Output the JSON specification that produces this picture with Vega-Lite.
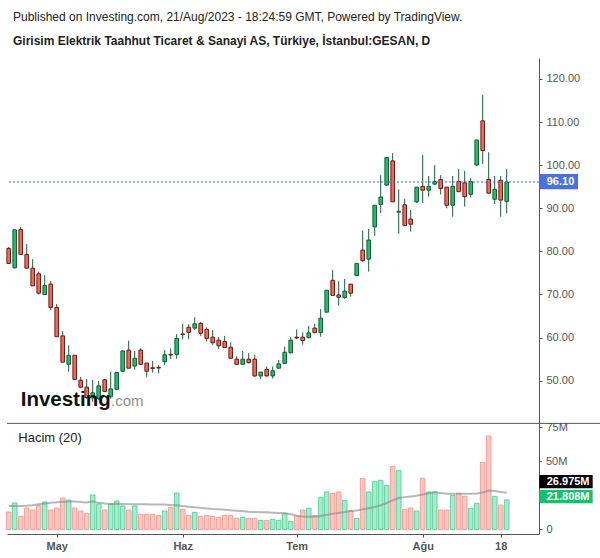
{
  "$schema": "https://vega.github.io/schema/vega-lite/v6.json",
  "width": 532,
  "height": 476,
  "autosize": {"type": "none"},
  "padding": {"left": 7, "top": 58, "right": 61, "bottom": 24},
  "background": "white",
  "config": {"view": {"stroke": null}, "font": "Liberation Sans", "axis": {"grid": false}},
  "title": {
    "text": "Published on Investing.com, 21/Aug/2023 - 18:24:59 GMT, Powered by TradingView.",
    "subtitle": "Girisim Elektrik Taahhut Ticaret & Sanayi AS, Türkiye, İstanbul:GESAN, D",
    "anchor": "start", "frame": "group", "dx": 6, "offset": 10,
    "fontSize": 12, "fontWeight": "normal", "color": "#222222",
    "subtitleFontSize": 12, "subtitleFontWeight": "bold", "subtitleColor": "#222222", "subtitlePadding": 12
  },
  "data": {"values": [
    {"i":0,"o":80.7,"h":81.0,"l":77.2,"c":77.2,"v":12.9,"ma":17.3},
    {"i":1,"o":76.2,"h":85.0,"l":76.0,"c":85.0,"v":19.5,"ma":17.3},
    {"i":2,"o":85.1,"h":85.7,"l":79.3,"c":79.3,"v":9.7,"ma":17.3},
    {"i":3,"o":79.3,"h":81.7,"l":76.1,"c":76.1,"v":15.8,"ma":17.4},
    {"i":4,"o":76.1,"h":78.2,"l":72.0,"c":72.0,"v":14.3,"ma":17.8},
    {"i":5,"o":74.8,"h":75.3,"l":70.0,"c":70.3,"v":17.5,"ma":18.5},
    {"i":6,"o":70.0,"h":74.5,"l":70.0,"c":72.1,"v":20.2,"ma":19.2},
    {"i":7,"o":72.4,"h":73.1,"l":66.4,"c":67.0,"v":14.3,"ma":19.7},
    {"i":8,"o":67.0,"h":67.8,"l":60.2,"c":60.2,"v":15.8,"ma":20.0},
    {"i":9,"o":60.4,"h":61.5,"l":54.3,"c":54.3,"v":23.2,"ma":20.4},
    {"i":10,"o":53.8,"h":58.2,"l":52.1,"c":55.9,"v":21.7,"ma":20.6},
    {"i":11,"o":55.9,"h":55.9,"l":50.3,"c":50.3,"v":15.8,"ma":20.5},
    {"i":12,"o":50.1,"h":50.9,"l":48.3,"c":48.5,"v":13.6,"ma":20.3},
    {"i":13,"o":48.5,"h":50.4,"l":45.8,"c":46.1,"v":11.9,"ma":19.9},
    {"i":14,"o":46.0,"h":50.2,"l":45.1,"c":47.2,"v":25.4,"ma":20.8},
    {"i":15,"o":45.9,"h":49.9,"l":45.5,"c":48.8,"v":18.75,"ma":19.6},
    {"i":16,"o":50.2,"h":50.4,"l":47.3,"c":47.5,"v":14.3,"ma":19.1},
    {"i":17,"o":46.3,"h":52.1,"l":45.8,"c":48.1,"v":18.75,"ma":18.8},
    {"i":18,"o":48.0,"h":51.9,"l":47.8,"c":51.9,"v":21.0,"ma":18.9},
    {"i":19,"o":52.2,"h":57.0,"l":52.0,"c":56.9,"v":17.3,"ma":18.7},
    {"i":20,"o":57.1,"h":59.3,"l":52.9,"c":52.9,"v":14.3,"ma":18.5},
    {"i":21,"o":53.4,"h":56.9,"l":52.6,"c":55.2,"v":17.3,"ma":18.6},
    {"i":22,"o":57.1,"h":57.5,"l":53.8,"c":53.8,"v":11.15,"ma":18.5},
    {"i":23,"o":54.1,"h":54.1,"l":50.9,"c":52.2,"v":11.15,"ma":18.5},
    {"i":24,"o":53.0,"h":54.6,"l":51.9,"c":52.85,"v":11.15,"ma":18.4},
    {"i":25,"o":53.1,"h":53.6,"l":51.7,"c":52.95,"v":10.4,"ma":18.4},
    {"i":26,"o":54.4,"h":57.1,"l":53.6,"c":56.0,"v":13.6,"ma":18.3},
    {"i":27,"o":56.1,"h":57.5,"l":55.1,"c":55.95,"v":16.3,"ma":18.1},
    {"i":28,"o":56.1,"h":60.8,"l":55.1,"c":59.8,"v":26.8,"ma":17.8},
    {"i":29,"o":60.85,"h":63.2,"l":59.6,"c":60.7,"v":14.8,"ma":17.3},
    {"i":30,"o":62.4,"h":63.1,"l":59.6,"c":61.2,"v":10.4,"ma":16.8},
    {"i":31,"o":62.2,"h":64.7,"l":61.8,"c":63.2,"v":12.6,"ma":16.3},
    {"i":32,"o":63.3,"h":63.6,"l":60.4,"c":61.0,"v":9.7,"ma":15.9},
    {"i":33,"o":61.9,"h":62.4,"l":59.1,"c":59.8,"v":10.4,"ma":15.5},
    {"i":34,"o":60.1,"h":61.7,"l":58.3,"c":58.8,"v":9.7,"ma":15.1},
    {"i":35,"o":59.4,"h":60.1,"l":57.3,"c":58.1,"v":8.9,"ma":14.8},
    {"i":36,"o":59.1,"h":60.4,"l":57.7,"c":57.7,"v":10.4,"ma":14.5},
    {"i":37,"o":57.75,"h":58.9,"l":55.2,"c":55.2,"v":10.4,"ma":14.1},
    {"i":38,"o":55.0,"h":55.7,"l":53.8,"c":53.8,"v":8.2,"ma":13.8},
    {"i":39,"o":53.8,"h":56.9,"l":53.8,"c":55.0,"v":8.9,"ma":13.5},
    {"i":40,"o":55.0,"h":56.4,"l":54.0,"c":54.2,"v":8.2,"ma":13.1},
    {"i":41,"o":55.0,"h":56.0,"l":50.9,"c":51.1,"v":8.2,"ma":12.9},
    {"i":42,"o":51.1,"h":52.0,"l":50.4,"c":52.0,"v":6.7,"ma":12.7},
    {"i":43,"o":52.6,"h":53.3,"l":51.0,"c":51.1,"v":6.7,"ma":12.6},
    {"i":44,"o":51.1,"h":53.3,"l":50.5,"c":52.3,"v":7.5,"ma":12.4},
    {"i":45,"o":52.9,"h":54.8,"l":52.9,"c":53.9,"v":6.7,"ma":12.2},
    {"i":46,"o":54.0,"h":57.9,"l":54.0,"c":56.6,"v":11.9,"ma":11.9},
    {"i":47,"o":56.5,"h":60.1,"l":56.3,"c":59.4,"v":6.0,"ma":11.2},
    {"i":48,"o":60.1,"h":61.9,"l":59.6,"c":59.9,"v":9.9,"ma":10.2},
    {"i":49,"o":60.1,"h":61.2,"l":58.35,"c":59.3,"v":14.3,"ma":9.5},
    {"i":50,"o":60.0,"h":62.7,"l":59.8,"c":61.1,"v":15.6,"ma":9.4},
    {"i":51,"o":62.2,"h":63.2,"l":61.0,"c":61.15,"v":10.2,"ma":9.6},
    {"i":52,"o":61.15,"h":66.6,"l":60.2,"c":64.5,"v":23.7,"ma":10.0},
    {"i":53,"o":65.9,"h":71.0,"l":65.8,"c":71.0,"v":27.6,"ma":10.8},
    {"i":54,"o":73.3,"h":75.7,"l":69.8,"c":69.8,"v":26.6,"ma":11.5},
    {"i":55,"o":69.9,"h":73.1,"l":67.4,"c":69.35,"v":27.6,"ma":12.2},
    {"i":56,"o":69.3,"h":73.6,"l":69.0,"c":70.8,"v":21.4,"ma":12.8},
    {"i":57,"o":72.4,"h":72.4,"l":69.5,"c":70.3,"v":13.6,"ma":13.6},
    {"i":58,"o":74.4,"h":77.2,"l":74.3,"c":77.2,"v":8.2,"ma":14.0},
    {"i":59,"o":80.3,"h":84.8,"l":77.6,"c":77.85,"v":37.6,"ma":14.8},
    {"i":60,"o":78.2,"h":85.2,"l":75.3,"c":82.65,"v":27.6,"ma":15.6},
    {"i":61,"o":85.7,"h":90.7,"l":83.6,"c":90.7,"v":35.4,"ma":16.5},
    {"i":62,"o":90.9,"h":97.7,"l":88.9,"c":92.6,"v":36.2,"ma":17.8},
    {"i":63,"o":95.4,"h":101.9,"l":95.2,"c":101.8,"v":32.5,"ma":19.5},
    {"i":64,"o":101.0,"h":102.8,"l":91.5,"c":91.5,"v":46.4,"ma":21.5},
    {"i":65,"o":89.1,"h":94.4,"l":84.1,"c":89.3,"v":43.5,"ma":23.2},
    {"i":66,"o":90.8,"h":92.2,"l":86.0,"c":86.0,"v":14.8,"ma":23.8},
    {"i":67,"o":87.5,"h":89.6,"l":84.6,"c":86.3,"v":15.8,"ma":24.3},
    {"i":68,"o":91.5,"h":94.9,"l":91.2,"c":94.9,"v":13.6,"ma":24.8},
    {"i":69,"o":95.1,"h":102.4,"l":91.2,"c":94.2,"v":37.6,"ma":25.8},
    {"i":70,"o":94.2,"h":97.5,"l":92.7,"c":95.1,"v":27.6,"ma":26.6},
    {"i":71,"o":95.6,"h":100.0,"l":95.4,"c":96.2,"v":27.6,"ma":27.3},
    {"i":72,"o":96.7,"h":97.7,"l":93.2,"c":94.6,"v":14.3,"ma":26.8},
    {"i":73,"o":94.9,"h":94.9,"l":90.0,"c":90.7,"v":14.3,"ma":26.3},
    {"i":74,"o":90.7,"h":97.5,"l":88.05,"c":95.1,"v":25.1,"ma":26.2},
    {"i":75,"o":96.2,"h":99.1,"l":93.85,"c":93.85,"v":26.6,"ma":26.2},
    {"i":76,"o":95.9,"h":98.7,"l":90.4,"c":92.7,"v":24.4,"ma":26.2},
    {"i":77,"o":93.25,"h":97.0,"l":92.5,"c":96.2,"v":15.6,"ma":26.3},
    {"i":78,"o":100.05,"h":105.85,"l":99.8,"c":105.85,"v":19.2,"ma":26.5},
    {"i":79,"o":110.3,"h":116.3,"l":100.3,"c":103.4,"v":49.4,"ma":27.2},
    {"i":80,"o":96.7,"h":103.0,"l":93.5,"c":93.5,"v":68.75,"ma":28.6},
    {"i":81,"o":92.1,"h":97.5,"l":91.0,"c":94.4,"v":24.4,"ma":28.3},
    {"i":82,"o":96.5,"h":97.5,"l":88.05,"c":91.9,"v":18.0,"ma":27.6},
    {"i":83,"o":91.6,"h":99.1,"l":88.8,"c":96.1,"v":21.8,"ma":27.0}
  ]},
  "layer": [
    {
      "layer": [
        {
          "mark": {"type": "rule", "color": "#1d5a38", "strokeWidth": 1},
          "encoding": {
            "x": {"field": "i", "type": "quantitative", "scale": {"domain": [-0.283, 88.383], "nice": false, "zero": false, "padding": 0},
                  "axis": {"values": [8, 29, 48, 69, 82], "labelExpr": "datum.value == 8 ? 'May' : datum.value == 29 ? 'Haz' : datum.value == 48 ? 'Tem' : datum.value == 69 ? 'Ağu' : '18'", "title": null, "domainColor": "#555555", "tickColor": "#555555", "tickSize": 3, "labelPadding": 3, "labelFontSize": 11, "labelFontWeight": "bold", "labelColor": "#555555", "labelFlush": false, "labelOverlap": false}},
            "y": {"field": "l", "type": "quantitative", "scale": {"domain": [14.43, 124.87], "nice": false, "zero": false, "padding": 0},
                  "axis": {"orient": "right", "values": [50, 60, 70, 80, 90, 100, 110, 120], "format": ".2f", "title": null, "domainColor": "#555555", "tickColor": "#555555", "tickSize": 3, "labelPadding": 4, "labelFontSize": 11, "labelColor": "#555555", "labelFlush": false, "labelOverlap": false}},
            "y2": {"field": "h"}
          }
        },
        {
          "mark": {"type": "bar", "size": 3.6, "strokeWidth": 1, "orient": "vertical"},
          "encoding": {
            "x": {"field": "i", "type": "quantitative", "scale": {"domain": [-0.283, 88.383], "nice": false, "zero": false, "padding": 0}},
            "y": {"field": "o", "type": "quantitative", "scale": {"domain": [14.43, 124.87], "nice": false, "zero": false, "padding": 0}},
            "y2": {"field": "c"},
            "fill": {"condition": {"test": "datum.c >= datum.o", "value": "#14c46f"}, "value": "#f7665b"},
            "stroke": {"condition": {"test": "datum.c >= datum.o", "value": "#1b5e36"}, "value": "#6e1c15"}
          }
        },
        {
          "data": {"values": [{}]},
          "mark": {"type": "rule", "color": "#3b66e0", "strokeDash": [2, 2], "strokeWidth": 1},
          "encoding": {"y": {"datum": 96.1, "type": "quantitative", "scale": {"domain": [14.43, 124.87], "nice": false, "zero": false, "padding": 0}}}
        },
        {
          "data": {"values": [{}]},
          "mark": {"type": "text", "text": "Investing", "align": "left", "baseline": "alphabetic", "fontSize": 20.5, "fontWeight": "bold", "color": "#111111"},
          "encoding": {
            "x": {"datum": 2.0, "type": "quantitative", "scale": {"domain": [-0.283, 88.383], "nice": false, "zero": false, "padding": 0}},
            "y": {"datum": 44.13, "type": "quantitative", "scale": {"domain": [14.43, 124.87], "nice": false, "zero": false, "padding": 0}}
          }
        },
        {
          "data": {"values": [{}]},
          "mark": {"type": "text", "text": ".com", "align": "left", "baseline": "alphabetic", "fontSize": 15, "color": "#8c8c8c"},
          "encoding": {
            "x": {"datum": 17.05, "type": "quantitative", "scale": {"domain": [-0.283, 88.383], "nice": false, "zero": false, "padding": 0}},
            "y": {"datum": 44.13, "type": "quantitative", "scale": {"domain": [14.43, 124.87], "nice": false, "zero": false, "padding": 0}}
          }
        },
        {
          "data": {"values": [{}]},
          "mark": {"type": "rect", "color": "#4a70e2"},
          "encoding": {
            "x": {"datum": 88.43, "type": "quantitative", "scale": {"domain": [-0.283, 88.383], "nice": false, "zero": false, "padding": 0}},
            "x2": {"datum": 94.88},
            "y": {"datum": 97.96, "type": "quantitative", "scale": {"domain": [14.43, 124.87], "nice": false, "zero": false, "padding": 0}},
            "y2": {"datum": 94.41}
          }
        },
        {
          "data": {"values": [{}]},
          "mark": {"type": "text", "text": "96.10", "align": "left", "baseline": "middle", "fontSize": 11, "fontWeight": "bold", "color": "#ffffff"},
          "encoding": {
            "x": {"datum": 89.67, "type": "quantitative", "scale": {"domain": [-0.283, 88.383], "nice": false, "zero": false, "padding": 0}},
            "y": {"datum": 96.17, "type": "quantitative", "scale": {"domain": [14.43, 124.87], "nice": false, "zero": false, "padding": 0}}
          }
        },
        {
          "data": {"values": [{}]},
          "mark": {"type": "text", "text": "50M", "align": "left", "baseline": "middle", "fontSize": 11, "color": "#555555"},
          "encoding": {
            "x": {"datum": 89.55, "type": "quantitative", "scale": {"domain": [-0.283, 88.383], "nice": false, "zero": false, "padding": 0}},
            "y": {"datum": 31.2, "type": "quantitative", "scale": {"domain": [14.43, 124.87], "nice": false, "zero": false, "padding": 0}}
          }
        },
        {
          "data": {"values": [{}]},
          "mark": {"type": "rule", "color": "#555555", "strokeWidth": 1},
          "encoding": {
            "x": {"datum": 88.383, "type": "quantitative", "scale": {"domain": [-0.283, 88.383], "nice": false, "zero": false, "padding": 0}},
            "x2": {"datum": 88.883},
            "y": {"datum": 31.2, "type": "quantitative", "scale": {"domain": [14.43, 124.87], "nice": false, "zero": false, "padding": 0}}
          }
        },
        {
          "data": {"values": [{}]},
          "mark": {"type": "rule", "color": "#555555", "strokeWidth": 1},
          "encoding": {
            "x": {"datum": -0.283, "type": "quantitative", "scale": {"domain": [-0.283, 88.383], "nice": false, "zero": false, "padding": 0}},
            "x2": {"datum": 98.6},
            "y": {"datum": 40.1, "type": "quantitative", "scale": {"domain": [14.43, 124.87], "nice": false, "zero": false, "padding": 0}}
          }
        }
      ]
    },
    {
      "layer": [
        {
          "mark": {"type": "bar", "size": 4.6, "strokeWidth": 1, "orient": "vertical"},
          "encoding": {
            "x": {"field": "i", "type": "quantitative", "scale": {"domain": [-0.283, 88.383], "nice": false, "zero": false, "padding": 0}},
            "y": {"field": "v", "type": "quantitative", "stack": null, "scale": {"domain": [-3.31, 346.69], "nice": false, "zero": false, "padding": 0},
                  "axis": {"orient": "right", "values": [0, 75], "labelExpr": "datum.value < 1 ? '0' : format(datum.value, 'd') + 'M'", "title": null, "domain": false, "tickColor": "#555555", "tickSize": 3, "labelPadding": 4, "labelFontSize": 11, "labelColor": "#555555", "labelFlush": false, "labelOverlap": false, "labelBound": false}},
            "y2": {"datum": 0},
            "fill": {"condition": {"test": "datum.c >= datum.o", "value": "#a6ebca"}, "value": "#fdc6c2"},
            "stroke": {"condition": {"test": "datum.c >= datum.o", "value": "#62d4a2"}, "value": "#f5a19b"}
          }
        },
        {
          "mark": {"type": "line", "color": "#888888", "opacity": 0.6, "strokeWidth": 2},
          "encoding": {
            "x": {"field": "i", "type": "quantitative", "scale": {"domain": [-0.283, 88.383], "nice": false, "zero": false, "padding": 0}},
            "y": {"field": "ma", "type": "quantitative", "scale": {"domain": [-3.31, 346.69], "nice": false, "zero": false, "padding": 0}}
          }
        },
        {
          "data": {"values": [{}]},
          "mark": {"type": "text", "text": "Hacim (20)", "align": "left", "baseline": "middle", "fontSize": 13, "color": "#222222"},
          "encoding": {
            "x": {"datum": 1.6, "type": "quantitative", "scale": {"domain": [-0.283, 88.383], "nice": false, "zero": false, "padding": 0}},
            "y": {"datum": 67.3, "type": "quantitative", "scale": {"domain": [-3.31, 346.69], "nice": false, "zero": false, "padding": 0}}
          }
        },
        {
          "data": {"values": [{}]},
          "mark": {"type": "rect", "color": "#000000"},
          "encoding": {
            "x": {"datum": 88.43, "type": "quantitative", "scale": {"domain": [-0.283, 88.383], "nice": false, "zero": false, "padding": 0}},
            "x2": {"datum": 97.33},
            "y": {"datum": 40.07, "type": "quantitative", "scale": {"domain": [-3.31, 346.69], "nice": false, "zero": false, "padding": 0}},
            "y2": {"datum": 30.29}
          }
        },
        {
          "data": {"values": [{}]},
          "mark": {"type": "rect", "color": "#10c46e"},
          "encoding": {
            "x": {"datum": 88.43, "type": "quantitative", "scale": {"domain": [-0.283, 88.383], "nice": false, "zero": false, "padding": 0}},
            "x2": {"datum": 97.33},
            "y": {"datum": 29.04, "type": "quantitative", "scale": {"domain": [-3.31, 346.69], "nice": false, "zero": false, "padding": 0}},
            "y2": {"datum": 19.26}
          }
        },
        {
          "data": {"values": [{}]},
          "mark": {"type": "text", "text": "26.975M", "align": "left", "baseline": "middle", "fontSize": 11, "fontWeight": "bold", "color": "#ffffff"},
          "encoding": {
            "x": {"datum": 89.67, "type": "quantitative", "scale": {"domain": [-0.283, 88.383], "nice": false, "zero": false, "padding": 0}},
            "y": {"datum": 35.15, "type": "quantitative", "scale": {"domain": [-3.31, 346.69], "nice": false, "zero": false, "padding": 0}}
          }
        },
        {
          "data": {"values": [{}]},
          "mark": {"type": "text", "text": "21.808M", "align": "left", "baseline": "middle", "fontSize": 11, "fontWeight": "bold", "color": "#ffffff"},
          "encoding": {
            "x": {"datum": 89.67, "type": "quantitative", "scale": {"domain": [-0.283, 88.383], "nice": false, "zero": false, "padding": 0}},
            "y": {"datum": 24.12, "type": "quantitative", "scale": {"domain": [-3.31, 346.69], "nice": false, "zero": false, "padding": 0}}
          }
        }
      ]
    }
  ],
  "resolve": {"scale": {"y": "independent"}, "axis": {"y": "independent"}}
}
